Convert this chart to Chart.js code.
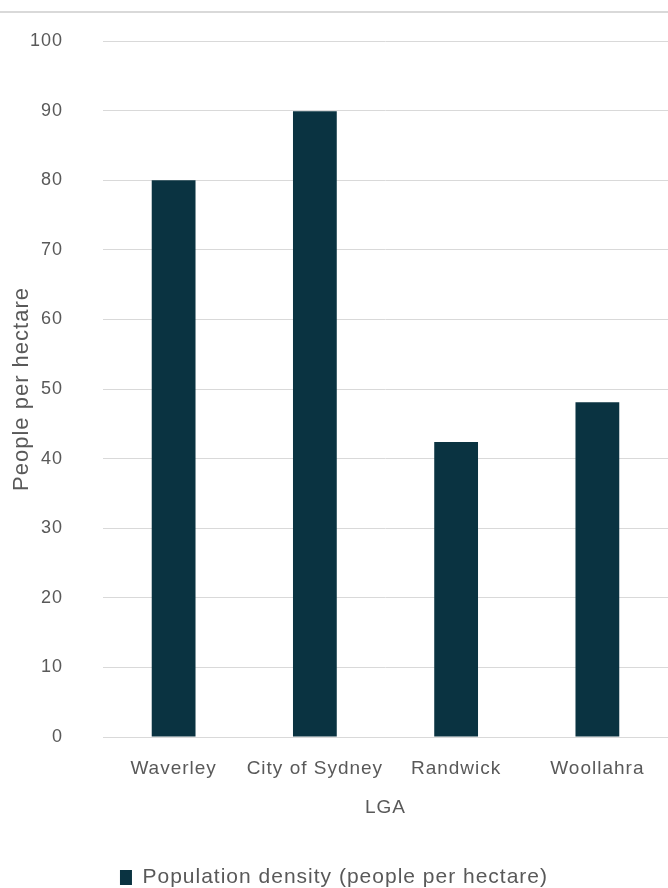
<!DOCTYPE html>
<html>
<head>
<meta charset="utf-8">
<script src="https://cdn.jsdelivr.net/npm/chart.js@4/dist/chart.umd.min.js"></script>
<style>
  html, body { margin: 0; padding: 0; background: #fff; }
  #wrap { width: 668px; height: 888px; position: relative; }
</style>
</head>
<body>
<div id="wrap"><canvas id="mainChart" width="668" height="888"></canvas></div>
<script>
// === Chart data ===
const categories = ["Waverley", "City of Sydney", "Randwick", "Woollahra"];
const densityValues = [80.0, 89.9, 42.4, 48.1];
const seriesLabel = "Population density (people per hectare)";
const yTitle = "People per hectare";
const xTitle = "LGA";

const barColor = "#0a3341";
const textColor = "#595959";
const gridColor = "#d9d9d9";
const fontFamily = "'Liberation Sans', Arial, sans-serif";

// the reference text is set loosely, so widen the tracking a bit
const looseText = {
  id: "looseText",
  beforeUpdate(chart) {
    chart.ctx.letterSpacing = "1px";
  }
};

// thin rule across the very top of the frame
const topRule = {
  id: "topRule",
  beforeDraw(chart) {
    const c = chart.ctx;
    c.save();
    c.strokeStyle = gridColor;
    c.lineWidth = 2;
    c.beginPath();
    c.moveTo(0, 12);
    c.lineTo(chart.width, 12);
    c.stroke();
    c.restore();
  }
};

const ctx = document.getElementById("mainChart");
new Chart(ctx.getContext("2d"), {
  type: "bar",
  data: {
    labels: categories,
    datasets: [{
      label: seriesLabel,
      data: densityValues,
      backgroundColor: barColor,
      borderWidth: 0,
      barPercentage: 0.31,
      categoryPercentage: 1
    }]
  },
  options: {
    responsive: false,
    animation: false,
    layout: { padding: { top: 41, right: 0, left: 0, bottom: -10 } },
    plugins: {
      tooltip: { enabled: false },
      legend: {
        position: "bottom",
        labels: {
          color: textColor,
          font: { family: fontFamily, size: 21 },
          boxWidth: 12,
          boxHeight: 15,
          padding: 1
        }
      }
    },
    scales: {
      x: {
        grid: { display: false, drawTicks: false },
        border: { display: true, color: gridColor, width: 1 },
        ticks: {
          color: textColor, font: { family: fontFamily, size: 19 }, padding: 20,
          maxRotation: 0, minRotation: 0, autoSkip: false
        },
        title: {
          display: true, text: xTitle, color: textColor,
          font: { family: fontFamily, size: 19 }, padding: { top: 0, bottom: 47 }
        },
        afterFit(scale) { scale.height = 129; }
      },
      y: {
        min: 0, max: 100,
        ticks: { stepSize: 10, color: textColor, font: { family: fontFamily, size: 18 }, padding: 40 },
        grid: { color: gridColor, lineWidth: 1, drawTicks: false },
        border: { display: false },
        title: {
          display: true, text: yTitle, color: textColor,
          font: { family: fontFamily, size: 22 }, padding: { top: 9, bottom: 0 }
        },
        afterFit(scale) {
          scale.width = 103;
          // tick padding would otherwise push the plot top down
          scale.paddingTop = 0;
          scale.paddingBottom = 0;
        }
      }
    }
  },
  plugins: [looseText, topRule]
});
</script>
</body>
</html>
